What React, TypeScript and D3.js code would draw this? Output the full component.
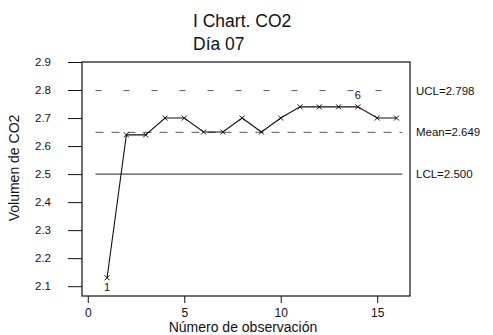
import React, { useEffect, useRef } from "react";
import * as d3 from "d3";

const observations = [1, 2, 3, 4, 5, 6, 7, 8, 9, 10, 11, 12, 13, 14, 15, 16];
const co2Values = [2.13, 2.64, 2.64, 2.7, 2.7, 2.65, 2.65, 2.7, 2.65, 2.7, 2.74, 2.74, 2.74, 2.74, 2.7, 2.7];
const yTicks = [2.1, 2.2, 2.3, 2.4, 2.5, 2.6, 2.7, 2.8, 2.9];
const xTicks = [0, 5, 10, 15];
const limitNames = ["UCL", "Mean", "LCL"];
const limitValues = [2.798, 2.649, 2.5];
const flaggedObs = [1, 14];
const flaggedTests = ["1", "6"];

const App: React.FC = () => {
  const svgRef = useRef<SVGSVGElement>(null);

  useEffect(() => {
    if (!svgRef.current) return;
    const svg = d3.select(svgRef.current);
    svg.selectAll("*").remove();

    const width = 493;
    const height = 335;
    const margin = { top: 62, right: 83, bottom: 39, left: 82 };
    const font = "Liberation Sans, Arial, sans-serif";

    const x = d3.scaleLinear().domain([-0.3, 16.7]).range([margin.left, width - margin.right]);
    const y = d3.scaleLinear().domain([2.065, 2.9]).range([height - margin.bottom, margin.top]);

    svg.attr("width", width).attr("height", height);

    // frame
    svg
      .append("rect")
      .attr("x", margin.left)
      .attr("y", margin.top)
      .attr("width", width - margin.left - margin.right)
      .attr("height", height - margin.top - margin.bottom)
      .attr("fill", "none")
      .attr("stroke", "#111")
      .attr("stroke-width", 1.2);

    const yAxis = svg
      .append("g")
      .attr("transform", `translate(${margin.left},0)`)
      .call(
        d3.axisLeft(y).tickValues(yTicks).tickSize(14).tickPadding(17).tickFormat(d3.format(".1f"))
      );
    yAxis.select(".domain").remove();
    yAxis.selectAll("text").attr("font-family", font).attr("font-size", 11.5).attr("fill", "#111");
    yAxis.selectAll("line").attr("stroke", "#111");

    const xAxis = svg
      .append("g")
      .attr("transform", `translate(0,${height - margin.bottom})`)
      .call(d3.axisBottom(x).tickValues(xTicks).tickSize(7).tickFormat(d3.format("d")));
    xAxis.select(".domain").remove();
    xAxis.selectAll("text").attr("font-family", font).attr("font-size", 12).attr("fill", "#111").attr("dy", "0.9em");
    xAxis.selectAll("line").attr("stroke", "#111");

    // control limits
    const dashes = ["6,22", "8,8", null];
    limitValues.forEach((v, i) => {
      svg
        .append("line")
        .attr("x1", x(0.4))
        .attr("x2", x(16.3))
        .attr("y1", y(v))
        .attr("y2", y(v))
        .attr("stroke", i === 2 ? "#222" : "#555")
        .attr("stroke-width", 1)
        .attr("stroke-dasharray", dashes[i]);
      svg
        .append("text")
        .attr("x", width - margin.right + 6)
        .attr("y", y(v))
        .attr("dy", "0.35em")
        .attr("font-family", font)
        .attr("font-size", 11.5)
        .attr("fill", "#111")
        .text(`${limitNames[i]}=${v.toFixed(3)}`);
    });

    const pts = observations.map((o, i) => [o, co2Values[i]] as [number, number]);

    svg
      .append("path")
      .datum(pts)
      .attr("fill", "none")
      .attr("stroke", "#111")
      .attr("stroke-width", 1.1)
      .attr("d", d3.line<[number, number]>().x((d) => x(d[0])).y((d) => y(d[1])));

    const cross = d3.symbol().type(d3.symbolX).size(18);
    svg
      .selectAll(".pt")
      .data(pts)
      .enter()
      .append("path")
      .attr("transform", (d) => `translate(${x(d[0])},${y(d[1])})`)
      .attr("d", cross)
      .attr("fill", "none")
      .attr("stroke", "#111")
      .attr("stroke-width", 1);

    flaggedObs.forEach((o, i) => {
      const v = co2Values[observations.indexOf(o)];
      const below = i === 0;
      svg
        .append("text")
        .attr("x", x(o))
        .attr("y", y(v) + (below ? 13 : -8))
        .attr("text-anchor", "middle")
        .attr("font-family", font)
        .attr("font-size", 11)
        .attr("fill", "#111")
        .text(flaggedTests[i]);
    });

    svg
      .append("text")
      .attr("x", 193)
      .attr("y", 27)
      .attr("font-family", font)
      .attr("font-size", 17.5)
      .attr("fill", "#111")
      .text("I Chart. CO2");
    svg
      .append("text")
      .attr("x", 193)
      .attr("y", 50)
      .attr("font-family", font)
      .attr("font-size", 17.5)
      .attr("fill", "#111")
      .text("Día 07");

    svg
      .append("text")
      .attr("x", 243)
      .attr("y", 332)
      .attr("text-anchor", "middle")
      .attr("font-family", font)
      .attr("font-size", 14)
      .attr("fill", "#111")
      .text("Número de observación");

    svg
      .append("text")
      .attr("transform", `translate(19,168) rotate(-90)`)
      .attr("text-anchor", "middle")
      .attr("font-family", font)
      .attr("font-size", 14)
      .attr("fill", "#111")
      .text("Volumen de CO2");
  }, []);

  return (
    <svg
      ref={svgRef}
      style={{ position: "absolute", left: 0, top: 0, background: "#fff", display: "block" }}
    />
  );
};

export default App;
